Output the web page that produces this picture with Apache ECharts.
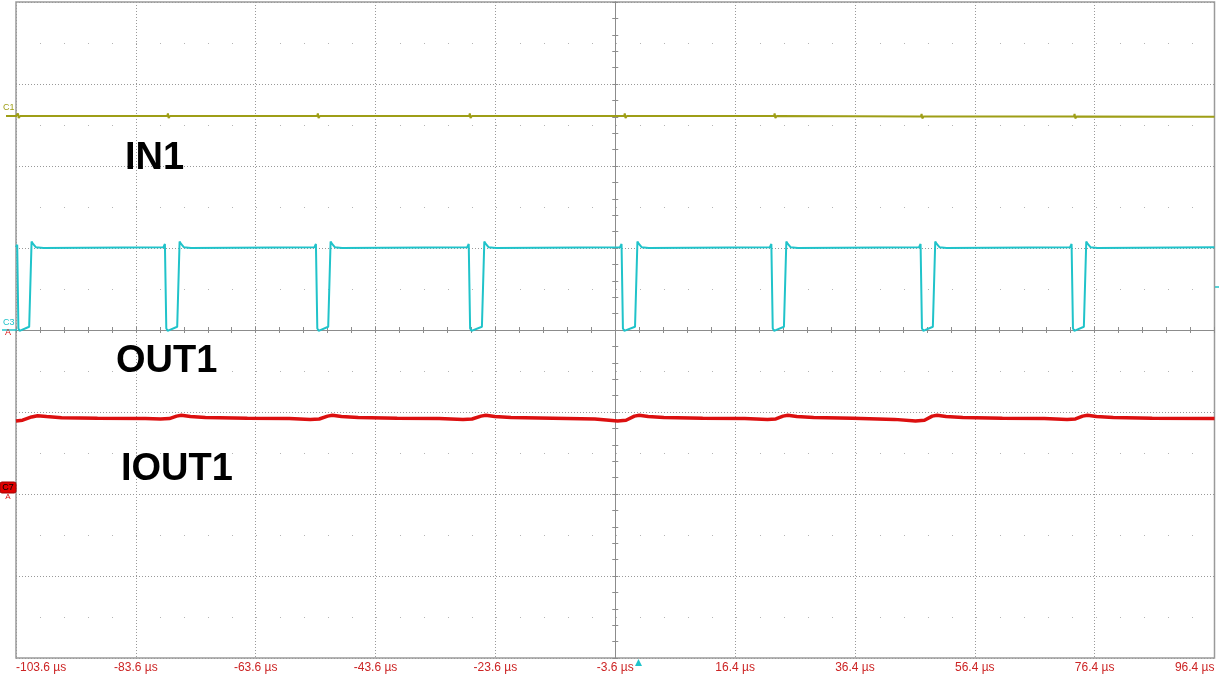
<!DOCTYPE html>
<html>
<head>
<meta charset="utf-8">
<script src="https://cdn.jsdelivr.net/npm/echarts@6/dist/echarts.min.js"></script>
<style>
html,body{margin:0;padding:0;background:#fff;}
#chart{width:1219px;height:679px;}
</style>
</head>
<body>
<div id="chart"></div>
<script>
// Time axis tick labels (10 divisions, 20 µs/div)
const tickLabels = ['-103.6 µs', '-83.6 µs', '-63.6 µs', '-43.6 µs', '-23.6 µs', '-3.6 µs', '16.4 µs', '36.4 µs', '56.4 µs', '76.4 µs', '96.4 µs'];
const timeOffset = 3.6; // screen centre is at -3.6 µs

// IN1 (channel C1), [time µs, divisions]
const in1 = [
  [-103.6, 2.61], [-103.35, 2.61], [-103.27, 2.64], [-103.15, 2.585], [-102.9, 2.61],
  [-78.35, 2.61], [-78.25, 2.64], [-78.13, 2.585], [-77.9, 2.61],
  [-53.33, 2.61], [-53.23, 2.64], [-53.11, 2.585], [-52.88, 2.61],
  [-27.97, 2.61], [-27.87, 2.64], [-27.75, 2.585], [-27.52, 2.61],
  [-2.11, 2.61], [-2.01, 2.64], [-1.89, 2.585], [-1.66, 2.61],
  [22.9, 2.61], [23.0, 2.64], [23.12, 2.585], [23.35, 2.61],
  [47.42, 2.605], [47.52, 2.635], [47.64, 2.58], [47.87, 2.605],
  [72.95, 2.605], [73.05, 2.635], [73.17, 2.58], [73.4, 2.605],
  [96.4, 2.6]
];

// OUT1 (channel C3), [time µs, divisions]
const out1 = [
  [-103.6, 1.01], [-103.4, 1.04], [-103.27, 1.02], [-103.2, 0.02], [-103.0, -0.01], [-101.4, 0.04], [-101.15, 0.05], [-101.0, 1.08], [-100.75, 1.05], [-100.3, 1.01], [-99.0, 1.0],
  [-79.0, 1.01], [-78.75, 1.05], [-78.6, 1.03], [-78.52, 0.02], [-78.3, -0.01], [-76.7, 0.04], [-76.45, 0.05], [-76.3, 1.08], [-76.05, 1.05], [-75.6, 1.01], [-74.4, 1.0],
  [-53.8, 1.01], [-53.55, 1.05], [-53.4, 1.03], [-53.32, 0.02], [-53.1, -0.01], [-51.5, 0.04], [-51.25, 0.05], [-51.1, 1.08], [-50.85, 1.05], [-50.4, 1.01], [-49.2, 1.0],
  [-28.3, 1.01], [-28.05, 1.05], [-27.9, 1.03], [-27.82, 0.02], [-27.6, -0.01], [-25.85, 0.04], [-25.6, 0.05], [-25.45, 1.08], [-25.2, 1.05], [-24.75, 1.01], [-23.5, 1.0],
  [-2.8, 1.01], [-2.55, 1.05], [-2.4, 1.03], [-2.32, 0.02], [-2.1, -0.01], [-0.3, 0.04], [-0.05, 0.05], [0.1, 1.08], [0.35, 1.05], [0.8, 1.01], [2.0, 1.0],
  [22.2, 1.01], [22.45, 1.05], [22.6, 1.03], [22.68, 0.02], [22.9, -0.01], [24.55, 0.04], [24.8, 0.05], [24.95, 1.08], [25.2, 1.05], [25.65, 1.01], [26.9, 1.0],
  [47.1, 1.01], [47.35, 1.05], [47.5, 1.03], [47.58, 0.02], [47.8, -0.01], [49.4, 0.04], [49.65, 0.05], [49.8, 1.08], [50.05, 1.05], [50.5, 1.01], [51.7, 1.0],
  [72.3, 1.01], [72.55, 1.05], [72.7, 1.03], [72.78, 0.02], [73.0, -0.01], [74.6, 0.04], [74.85, 0.05], [75.0, 1.08], [75.25, 1.05], [75.7, 1.01], [76.9, 1.0],
  [96.4, 1.01]
];

// IOUT1 (channel C7), [time µs, divisions]
const iout1 = [
  [-103.6, -1.11], [-102.5, -1.1], [-101.0, -1.06], [-100.0, -1.045], [-98.5, -1.055], [-96.0, -1.07], [-90, -1.075], [-82, -1.08],
  [-79.5, -1.085], [-78.0, -1.08], [-76.8, -1.05], [-76.0, -1.04], [-74.5, -1.055], [-72, -1.068], [-65, -1.075], [-58, -1.08],
  [-54.5, -1.09], [-53.0, -1.085], [-51.6, -1.05], [-50.8, -1.04], [-49.3, -1.055], [-46.5, -1.068], [-40, -1.075], [-33, -1.08],
  [-29, -1.09], [-27.5, -1.085], [-26.0, -1.05], [-25.2, -1.04], [-23.7, -1.055], [-21, -1.068], [-14, -1.075], [-7, -1.085],
  [-3.2, -1.11], [-1.8, -1.1], [-0.4, -1.05], [0.4, -1.04], [1.9, -1.055], [4.5, -1.068], [11, -1.075], [18, -1.08],
  [21.8, -1.09], [23.2, -1.085], [24.4, -1.05], [25.2, -1.04], [26.7, -1.055], [29.5, -1.068], [36, -1.075], [43, -1.09],
  [46.5, -1.11], [48, -1.1], [49.3, -1.05], [50.1, -1.04], [51.6, -1.055], [54.4, -1.068], [61, -1.075], [68, -1.08],
  [71.8, -1.09], [73.2, -1.085], [74.4, -1.05], [75.2, -1.04], [76.7, -1.055], [79.5, -1.068], [86, -1.075], [96.4, -1.08]
];

const shift = pts => pts.map(p => [p[0] + timeOffset, p[1]]);

const FONT = "'Liberation Sans', Arial, sans-serif";
const gridColor = '#999999';
const centreColor = '#8c8c8c';

function centreAxisX(inside) {
  return {
    type: 'value', min: -100, max: 100, interval: 20, position: 'bottom',
    axisLine: { show: true, onZero: true, lineStyle: { color: centreColor, width: 1 } },
    axisTick: { show: true, inside: inside, length: 3, lineStyle: { color: centreColor } },
    minorTick: { show: true, splitNumber: 5, length: 3, lineStyle: { color: centreColor } },
    axisLabel: { show: false }, splitLine: { show: false }
  };
}
function centreAxisY(inside) {
  return {
    type: 'value', min: -4, max: 4, interval: 1, position: 'left',
    axisLine: { show: true, onZero: true, lineStyle: { color: centreColor, width: 1 } },
    axisTick: { show: true, inside: inside, length: 3, lineStyle: { color: centreColor } },
    minorTick: { show: true, splitNumber: 5, length: 3, lineStyle: { color: centreColor } },
    axisLabel: { show: false }, splitLine: { show: false }
  };
}

const chart = echarts.init(document.getElementById('chart'), null, { renderer: 'canvas' });
chart.setOption({
  animation: false,
  backgroundColor: '#ffffff',
  grid: {
    left: 16, right: 4.5, top: 2, bottom: 21,
    containLabel: false, outerBoundsMode: 'none',
    show: true, borderColor: '#9a9a9a', borderWidth: 1.5, backgroundColor: '#ffffff'
  },
  xAxis: [
    {
      type: 'value', min: -100, max: 100, interval: 20, position: 'bottom',
      axisLine: { show: false, onZero: false },
      axisTick: { show: false },
      axisLabel: {
        show: true, margin: 4, color: '#cc2424', fontSize: 12, fontFamily: FONT,
        alignMinLabel: 'left', alignMaxLabel: 'right',
        formatter: function (v) { return tickLabels[Math.round((v + 100) / 20)]; }
      },
      splitLine: { show: true, lineStyle: { color: gridColor, width: 1, type: [1, 2] } }
    },
    centreAxisX(true),
    centreAxisX(false)
  ],
  yAxis: [
    {
      type: 'value', min: -4, max: 4, interval: 1,
      axisLine: { show: false, onZero: false },
      axisTick: { show: false }, axisLabel: { show: false },
      minorTick: { show: false, splitNumber: 2 },
      splitLine: { show: true, lineStyle: { color: gridColor, width: 1, type: [1, 2] } },
      minorSplitLine: { show: true, lineStyle: { color: '#b4b4b4', width: 1, type: [1, 23] } }
    },
    centreAxisY(true),
    centreAxisY(false)
  ],
  series: [
    {
      name: 'IN1', type: 'line', data: shift(in1), showSymbol: false, symbol: 'none',
      lineStyle: { color: '#9e9e16', width: 2 }, z: 3
    },
    {
      name: 'OUT1', type: 'line', data: shift(out1), showSymbol: false, symbol: 'none',
      lineStyle: { color: '#20c3ca', width: 2 }, z: 3
    },
    {
      name: 'IOUT1', type: 'line', data: shift(iout1), showSymbol: false, symbol: 'none',
      lineStyle: { color: '#dc1010', width: 3.5 }, z: 3
    }
  ],
  graphic: [
    { type: 'text', z: 10, style: { text: 'IN1', x: 125, y: 159, fontSize: 38, fontWeight: 'bold', fontFamily: FONT, fill: '#000', align: 'left', verticalAlign: 'middle' } },
    { type: 'text', z: 10, style: { text: 'OUT1', x: 116, y: 362, fontSize: 38, fontWeight: 'bold', fontFamily: FONT, fill: '#000', align: 'left', verticalAlign: 'middle' } },
    { type: 'text', z: 10, style: { text: 'IOUT1', x: 121, y: 470, fontSize: 38, fontWeight: 'bold', fontFamily: FONT, fill: '#000', align: 'left', verticalAlign: 'middle' } },
    // channel markers
    { type: 'text', z: 10, style: { text: 'C1', x: 3, y: 108, fontSize: 9, fontFamily: FONT, fill: '#9e9e16', verticalAlign: 'middle' } },
    { type: 'line', z: 10, shape: { x1: 6, y1: 116, x2: 17, y2: 116 }, style: { stroke: '#9e9e16', lineWidth: 2 } },
    { type: 'text', z: 10, style: { text: 'C3', x: 3, y: 323, fontSize: 9, fontFamily: FONT, fill: '#20c3ca', verticalAlign: 'middle' } },
    { type: 'line', z: 10, shape: { x1: 2, y1: 330, x2: 17, y2: 330 }, style: { stroke: '#20c3ca', lineWidth: 1.5 } },
    { type: 'text', z: 11, style: { text: 'A', x: 8, y: 333, fontSize: 9, fontFamily: FONT, fill: '#dc1010', align: 'center', verticalAlign: 'middle' } },
    { type: 'rect', z: 10, shape: { x: 0, y: 482, width: 16, height: 11, r: 2 }, style: { fill: '#e00000', stroke: '#a00000', lineWidth: 1 } },
    { type: 'text', z: 11, style: { text: 'C7', x: 8, y: 487.5, fontSize: 9, fontFamily: FONT, fill: '#000', align: 'center', verticalAlign: 'middle' } },
    { type: 'text', z: 11, style: { text: 'A', x: 8, y: 497, fontSize: 8, fontFamily: FONT, fill: '#dc1010', align: 'center', verticalAlign: 'middle' } },
    { type: 'polygon', z: 10, shape: { points: [[635, 666], [642, 666], [638.5, 659]] }, style: { fill: '#20c3ca' } },
    { type: 'line', z: 10, shape: { x1: 1215, y1: 287, x2: 1219, y2: 287 }, style: { stroke: '#20c3ca', lineWidth: 1.5 } }
  ]
});
</script>
</body>
</html>
